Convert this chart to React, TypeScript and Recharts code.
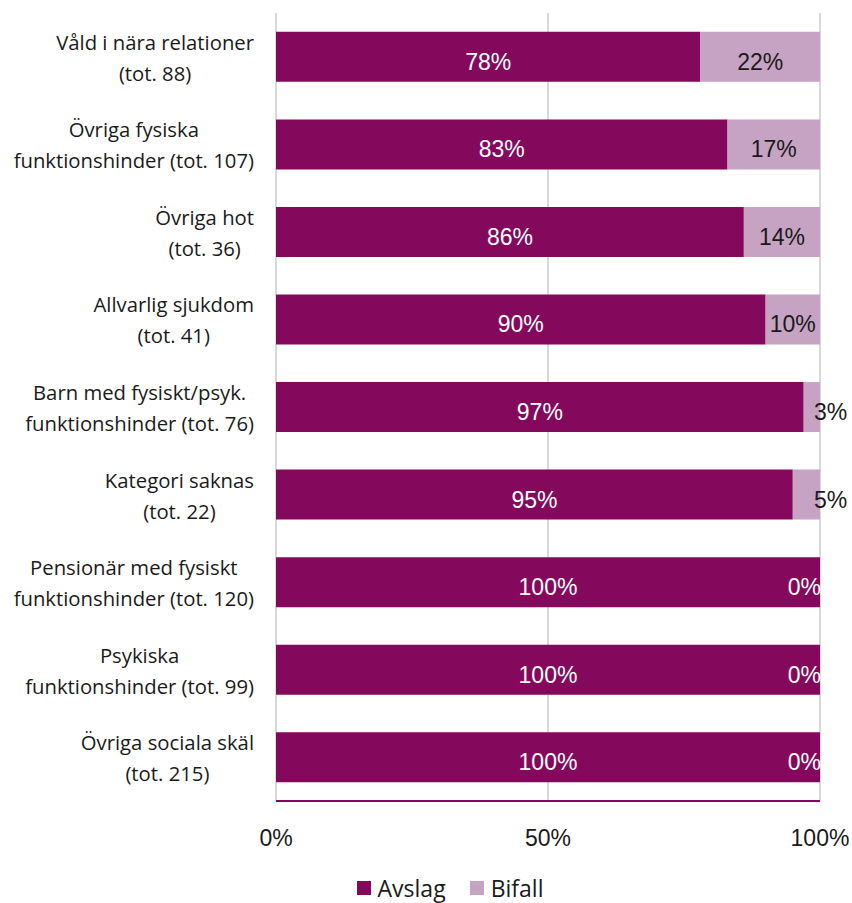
import { BarChart, Bar, XAxis, YAxis, CartesianGrid, Legend, LabelList } from "recharts";

const categoryLines = [
  ["Våld i nära relationer", "(tot. 88)"],
  ["Övriga fysiska", "funktionshinder (tot. 107)"],
  ["Övriga hot", "(tot. 36)"],
  ["Allvarlig sjukdom", "(tot. 41)"],
  ["Barn med fysiskt/psyk.", "funktionshinder (tot. 76)"],
  ["Kategori saknas", "(tot. 22)"],
  ["Pensionär med fysiskt", "funktionshinder (tot. 120)"],
  ["Psykiska", "funktionshinder (tot. 99)"],
  ["Övriga sociala skäl", "(tot. 215)"],
];
const avslag = [78, 83, 86, 90, 97, 95, 100, 100, 100];
const bifall = [22, 17, 14, 10, 3, 5, 0, 0, 0];
const xTicks = [0, 50, 100];

const AVSLAG = "#84085c";
const BIFALL = "#c6a2c3";
const CAT_FONT = "'Open Sans'";
const CAT_SIZE = 20.3;
const NUM_FONT = "'Liberation Sans', Arial, sans-serif";
const NUM_SIZE = 23;

const data = categoryLines.map((lines, i) => ({
  name: lines.join(" "),
  lines,
  avslag: avslag[i],
  bifall: bifall[i],
}));

let ctx: CanvasRenderingContext2D | null = null;
function measure(text: string) {
  if (!ctx) ctx = document.createElement("canvas").getContext("2d");
  if (!ctx) return text.length * 9;
  ctx.font = `${CAT_SIZE}px ${CAT_FONT}`;
  return ctx.measureText(text).width;
}

function CategoryTick(props: any) {
  const { y, payload } = props;
  const row = data.find((d) => d.name === payload.value);
  const lines = row ? row.lines : [payload.value];
  const w = Math.max(...lines.map(measure));
  const cx = 254 - w / 2;
  return (
    <g>
      {lines.map((l: string, i: number) => (
        <text
          key={i}
          x={cx}
          y={y + (i === 0 ? -15 : 16)}
          textAnchor="middle"
          dominantBaseline="central"
          fontFamily={CAT_FONT}
          fontSize={CAT_SIZE}
          fill="#1a1a1a"
        >
          {l}
        </text>
      ))}
    </g>
  );
}

function PercentTick(props: any) {
  const { x, y, payload } = props;
  return (
    <text x={x} y={y + 29} textAnchor="middle" dominantBaseline="central" fontFamily={NUM_FONT} fontSize={NUM_SIZE} fill="#1a1a1a">
      {payload.value}%
    </text>
  );
}

function AvslagLabel(props: any) {
  const { x, y, width, height, value } = props;
  return (
    <text x={x + width / 2} y={y + height / 2 + 13} textAnchor="middle" fontFamily={NUM_FONT} fontSize={NUM_SIZE} fill="#ffffff">
      {value}%
    </text>
  );
}

// zero-width Bifall segments draw no bar, so their label hangs off the Avslag bar end
function ZeroBifallLabel(props: any) {
  const { x, y, width, height, value } = props;
  if (value !== 0) return null;
  return (
    <text x={x + width + 1} y={y + height / 2 + 13} textAnchor="end" fontFamily={NUM_FONT} fontSize={NUM_SIZE} fill="#ffffff">
      {value}%
    </text>
  );
}

function BifallLabel(props: any) {
  const { x, y, width, height, value } = props;
  if (value === 0) return null;
  let tx = x + width / 2;
  let anchor: "middle" | "start" = "middle";
  if (width < 40) {
    tx = x + width - 6;
    anchor = "start";
  }
  return (
    <text x={tx} y={y + height / 2 + 13} textAnchor={anchor} fontFamily={NUM_FONT} fontSize={NUM_SIZE} fill="#1a1a1a">
      {value}%
    </text>
  );
}

function LegendContent() {
  const items = [
    { label: "Avslag", color: AVSLAG },
    { label: "Bifall", color: BIFALL },
  ];
  return (
    <div
      style={{
        display: "flex",
        justifyContent: "center",
        paddingTop: 18,
        paddingLeft: 80,
        fontFamily: CAT_FONT,
        fontSize: 23,
        lineHeight: "28px",
        color: "#1a1a1a",
      }}
    >
      {items.map((it, i) => (
        <div key={it.label} style={{ display: "flex", alignItems: "center", marginRight: i === 0 ? 24 : 0 }}>
          <span style={{ width: 14, height: 14, background: it.color, display: "inline-block", marginRight: 7 }} />
          <span>{it.label}</span>
        </div>
      ))}
    </div>
  );
}

export default function App() {
  return (
    <div style={{ position: "absolute", left: 0, top: 0, background: "#fff" }}>
      <BarChart
        width={852}
        height={903}
        data={data}
        layout="vertical"
        margin={{ top: 13, right: 32, left: 0, bottom: 0 }}
        barCategoryGap="21.5%"
      >
        <CartesianGrid horizontal={false} stroke="#d9d9d9" strokeWidth={2} />
        <XAxis
          type="number"
          domain={[0, 100]}
          ticks={xTicks}
          tick={<PercentTick />}
          tickLine={false}
          axisLine={{ stroke: AVSLAG, strokeWidth: 2 }}
          height={55}
          interval={0}
        />
        <YAxis
          type="category"
          dataKey="name"
          width={276}
          tick={<CategoryTick />}
          tickLine={false}
          axisLine={false}
          interval={0}
        />
        <Legend verticalAlign="bottom" height={47} content={<LegendContent />} />
        <Bar dataKey="avslag" name="Avslag" stackId="a" fill={AVSLAG} isAnimationActive={false}>
          <LabelList dataKey="avslag" content={<AvslagLabel />} />
          <LabelList dataKey="bifall" content={<ZeroBifallLabel />} />
        </Bar>
        <Bar dataKey="bifall" name="Bifall" stackId="a" fill={BIFALL} isAnimationActive={false}>
          <LabelList dataKey="bifall" content={<BifallLabel />} />
        </Bar>
      </BarChart>
    </div>
  );
}
